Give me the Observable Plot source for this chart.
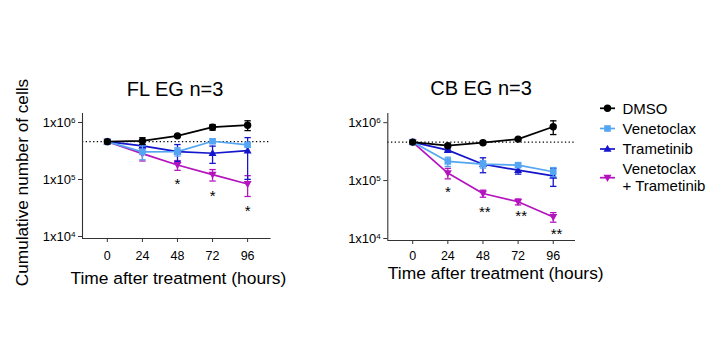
<!DOCTYPE html>
<html><head><meta charset="utf-8">
<script src="https://cdn.jsdelivr.net/npm/d3@7"></script>
<script src="https://cdn.jsdelivr.net/npm/@observablehq/plot@0.6"></script>
<style>
html,body{margin:0;padding:0;background:#fff;}
#chart{position:relative;width:726px;height:363px;overflow:hidden;font-family:"Liberation Sans",Arial,Helvetica,sans-serif;}
#chart > *{position:absolute;top:0;}
</style></head><body><div id="chart"></div>
<script>
// ---------- data ----------
const times = [0, 24, 48, 72, 96];
const seriesNames = ["DMSO", "Venetoclax", "Trametinib", "Venetoclax + Trametinib"];
const seriesColors = ["#000000", "#55a6f2", "#1515cc", "#b414be"];
const panelTitles = ["FL EG n=3", "CB EG n=3"];
const xTicks = [0, 24, 48, 72, 96];
const yTicks = [1e4, 1e5, 1e6];
const refLevel = 5e5;
const xLabel = "Time after treatment (hours)";
const yLabel = "Cumulative number of cells";

// FL EG (mean, SEM)
const flDMSO = [5.0e5, 5.17e5, 6.32e5, 8.97e5, 9.72e5];
const flDMSOErr = [0, 0.7e5, 0.3e5, 1.0e5, 1.9e5];
const flVen = [5.0e5, 3.31e5, 3.35e5, 5.08e5, 4.4e5];
const flVenErr = [0, 0.9e5, 0.55e5, 0.4e5, 0.3e5];
const flTram = [5.0e5, 4.22e5, 3.35e5, 3.13e5, 3.49e5];
const flTramErr = [0, 0.25e5, 1.1e5, 1.05e5, 2.4e5];
const flCombo = [5.0e5, 3.09e5, 1.95e5, 1.32e5, 9.06e4];
const flComboErr = [0, 0.8e5, 0.38e5, 0.3e5, 3.6e4];
const flStarTime = [48, 72, 96];
const flStarValue = [1.02e5, 6.37e4, 3.47e4];
const flStarText = ["*", "*", "*"];

// CB EG (mean, SEM)
const cbDMSO = [5.0e5, 4.34e5, 4.89e5, 5.64e5, 9.2e5];
const cbDMSOErr = [0, 0.25e5, 0.3e5, 0.25e5, 2.45e5];
const cbVen = [5.0e5, 2.32e5, 2.08e5, 2.0e5, 1.54e5];
const cbVenErr = [0, 0.42e5, 0.3e5, 0.15e5, 0.28e5];
const cbTram = [5.0e5, 3.64e5, 2.08e5, 1.64e5, 1.31e5];
const cbTramErr = [0, 0.15e5, 0.6e5, 0.24e5, 0.45e5];
const cbCombo = [5.0e5, 1.46e5, 6.49e4, 4.67e4, 2.55e4];
const cbComboErr = [0, 0.3e5, 0.9e4, 0.55e4, 0.48e4];
const cbStarTime = [24, 49.2, 74.1, 98.3];
const cbStarValue = [7.93e4, 3.61e4, 3.05e4, 1.47e4];
const cbStarText = ["*", "**", "**", "**"];

// ---------- symbols ----------
const symSquare = {draw(c, s){const r = Math.sqrt(s / Math.PI); c.rect(-r, -r, 2 * r, 2 * r);}};
const symUp = {draw(c, s){const r = Math.sqrt(s / Math.PI); c.moveTo(0, -1.1 * r); c.lineTo(1.05 * r, 0.75 * r); c.lineTo(-1.05 * r, 0.75 * r); c.closePath();}};
const symDown = {draw(c, s){const r = Math.sqrt(s / Math.PI); c.moveTo(0, 1.1 * r); c.lineTo(1.05 * r, -0.75 * r); c.lineTo(-1.05 * r, -0.75 * r); c.closePath();}};
const symCap = {draw(c, s){const r = Math.sqrt(s / Math.PI); c.moveTo(-r, 0); c.lineTo(r, 0);}};
const seriesSymbols = ["circle", symSquare, symUp, symDown];
const seriesR = [3.7, 3.3, 3.8, 3.8];

const FONT = '"Liberation Sans", Arial, Helvetica, sans-serif';
const supMap = {"4": "\u2074", "5": "\u2075", "6": "\u2076"};
const supBack = {"\u2074": "4", "\u2075": "5", "\u2076": "6"};
const fmtY = d => "1x10" + supMap[String(Math.round(Math.log10(d)))];

function rows(means, errs) {
  return times.map((t, i) => ({t, v: means[i], lo: means[i] - errs[i], hi: means[i] + errs[i], e: errs[i]}));
}

function panel(o) {
  const marks = [
    Plot.ruleY([refLevel], {stroke: "#000", strokeWidth: 1.3, strokeDasharray: "1.3,2.4"})
  ];
  const order = [3, 2, 1, 0];
  for (const k of order) {
    const d = rows(o.means[k], o.errs[k]);
    const de = d.filter(r => r.e > 0);
    const col = seriesColors[k];
    marks.push(
      Plot.ruleX(de, {x: "t", y1: "lo", y2: "hi", stroke: col, strokeWidth: 1.3}),
      Plot.dot(de, {x: "t", y: "lo", symbol: symCap, r: 3.2, stroke: col, strokeWidth: 1.3, fill: "none"}),
      Plot.dot(de, {x: "t", y: "hi", symbol: symCap, r: 3.2, stroke: col, strokeWidth: 1.3, fill: "none"}),
      Plot.line(d, {x: "t", y: "v", stroke: col, strokeWidth: 1.7}),
      Plot.dot(d, {x: "t", y: "v", symbol: seriesSymbols[k], r: seriesR[k], fill: col, stroke: "none"})
    );
  }
  const stars = o.starTime.map((t, i) => ({t, v: o.starValue[i], s: o.starText[i]}));
  marks.push(
    Plot.text(stars, {x: "t", y: "v", text: "s", fontSize: 15, dy: 3.5, fill: "#000"}),
    Plot.ruleX([o.xDomain[0]], {stroke: "#333", strokeWidth: 1.1}),
    Plot.ruleY([1e4], {stroke: "#333", strokeWidth: 1.1}),
    Plot.axisY({ticks: yTicks, tickFormat: fmtY, tickSize: 4, tickPadding: 3, fontSize: 13, dy: -2, label: null, stroke: "#333"}),
    Plot.axisX({ticks: xTicks, tickFormat: d => String(d), tickSize: 4, tickPadding: o.tickPad, fontSize: 12.5, label: null, stroke: "#333"}),
    Plot.text([o.title], {text: d => d, frameAnchor: "top", lineAnchor: "bottom", dx: o.titleDx, dy: o.titleDy, fontSize: 20, fill: "#000"}),
    Plot.text([xLabel], {text: d => d, frameAnchor: "bottom-left", textAnchor: "start", lineAnchor: "bottom", dx: o.xlDx, dy: o.xlDy, fontSize: 17.4, fill: "#000"})
  );
  if (o.yLabel) {
    marks.push(Plot.text([o.yLabel], {text: d => d, frameAnchor: "left", textAnchor: "middle", rotate: -90, dx: -60.5, dy: 6.5, fontSize: 17.2, fill: "#000"}));
  }
  const svg = Plot.plot({
    width: o.width, height: 363,
    marginTop: 113, marginBottom: o.marginBottom, marginLeft: o.marginLeft, marginRight: o.marginRight,
    x: {domain: o.xDomain},
    y: {type: "log", domain: [1e4, 1.56e6]},
    style: {fontFamily: FONT, color: "#000", background: "transparent", overflow: "visible"},
    marks
  });
  // superscript exponents
  svg.querySelectorAll('g[aria-label="y-axis tick label"] text').forEach(t => {
    const s = t.textContent;
    const last = s.slice(-1);
    if (supBack[last]) {
      t.textContent = s.slice(0, -1);
      const ts = document.createElementNS("http://www.w3.org/2000/svg", "tspan");
      ts.setAttribute("font-size", "8");
      ts.setAttribute("dy", "-4");
      ts.textContent = supBack[last];
      t.appendChild(ts);
    }
  });
  svg.style.left = o.left + "px";
  return svg;
}

const chart = document.getElementById("chart");
chart.appendChild(panel({
  left: 0, width: 290, marginLeft: 82, marginRight: 19.5, marginBottom: 125,
  xDomain: [-17, 112], tickPad: 8.5,
  title: panelTitles[0], titleDx: -1.7, titleDy: -18,
  xlDx: -12, xlDy: 45.3, yLabel,
  means: [flDMSO, flVen, flTram, flCombo], errs: [flDMSOErr, flVenErr, flTramErr, flComboErr],
  starTime: flStarTime, starValue: flStarValue, starText: flStarText
}));
chart.appendChild(panel({
  left: 300, width: 320, marginLeft: 87.3, marginRight: 45, marginBottom: 123,
  xDomain: [-17, 111.2], tickPad: 6.7,
  title: panelTitles[1], titleDx: -0.6, titleDy: -18.7,
  xlDx: 0, xlDy: 38.3, yLabel: null,
  means: [cbDMSO, cbVen, cbTram, cbCombo], errs: [cbDMSOErr, cbVenErr, cbTramErr, cbComboErr],
  starTime: cbStarTime, starValue: cbStarValue, starText: cbStarText
}));

// ---------- legend ----------
const legendRows = [
  {k: 0, y: 108.3, lines: ["DMSO"]},
  {k: 1, y: 128.5, lines: ["Venetoclax"]},
  {k: 2, y: 149, lines: ["Trametinib"]},
  {k: 3, y: 177.7, lines: ["Venetoclax", "+ Trametinib"]}
];
const lg = d3.create("svg").attr("width", 126).attr("height", 363)
  .style("left", "600px").style("font-family", FONT);
for (const row of legendRows) {
  const g = lg.append("g").attr("transform", `translate(0,${row.y})`);
  g.append("line").attr("x1", 0).attr("x2", 15).attr("stroke", seriesColors[row.k]).attr("stroke-width", 1.7);
  const sym = seriesSymbols[row.k];
  const sz = Math.PI * seriesR[row.k] ** 2;
  const p = d3.path();
  if (sym === "circle") d3.symbolCircle.draw(p, sz); else sym.draw(p, sz);
  g.append("path").attr("d", p.toString()).attr("transform", "translate(7.5,0)").attr("fill", seriesColors[row.k]);
  const n = row.lines.length;
  row.lines.forEach((ln, i) => {
    g.append("text").attr("x", 22.5).attr("y", (i - (n - 1) / 2) * 16.7 + (n > 1 ? -0.5 : 0))
      .attr("dy", "0.35em").attr("font-size", 15).attr("fill", "#000").text(ln);
  });
}
chart.appendChild(lg.node());
</script>
</body></html>
